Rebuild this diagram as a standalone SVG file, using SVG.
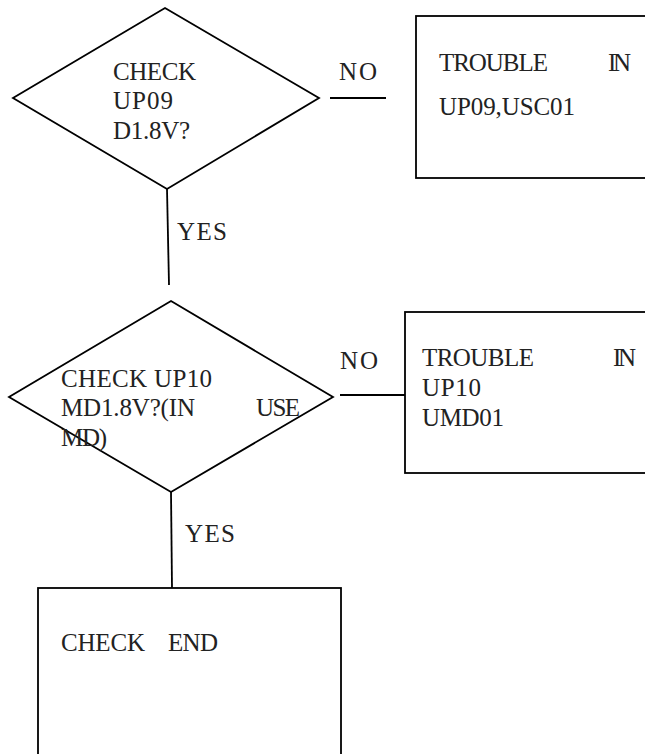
<svg xmlns="http://www.w3.org/2000/svg" width="645" height="754" viewBox="0 0 645 754">
<style>
.s{fill:none;stroke:#000;stroke-width:1.8}
.b{fill:#fff;stroke:#000;stroke-width:1.8}
text{font-family:"Liberation Serif","Times New Roman",serif;font-size:25px;fill:#222}
</style>
<rect width="645" height="754" fill="#fff"/>
<g id="connectors">
<line class="s" x1="167" y1="189" x2="169" y2="285"/>
<line class="s" x1="330" y1="98" x2="386" y2="98"/>
<line class="s" x1="171" y1="492" x2="172" y2="588"/>
<line class="s" x1="340" y1="395" x2="405" y2="395"/>
<text x="177" y="240" textLength="50">YES</text>
<text x="339" y="80" textLength="38">NO</text>
<text x="185" y="542" textLength="50">YES</text>
<text x="340" y="369" textLength="38">NO</text>
</g>
<g id="d1">
<polygon class="b" points="165,8 319,98 167,189 13,98"/>
<text x="113" y="80" textLength="83">CHECK</text>
<text x="113" y="109" textLength="60">UP09</text>
<text x="113" y="139" textLength="77">D1.8V?</text>
</g>
<g id="box1">
<rect class="b" x="416" y="16" width="240" height="162"/>
<text x="439" y="71" textLength="109">TROUBLE</text>
<text x="608" y="71" textLength="23">IN</text>
<text x="439" y="115" textLength="136">UP09,USC01</text>
</g>
<g id="d2">
<polygon class="b" points="171,301 333,397 171,492 9,397"/>
<text x="61" y="387" textLength="151">CHECK UP10</text>
<text x="61" y="416" textLength="134">MD1.8V?(IN</text>
<text x="256" y="416" textLength="44">USE</text>
<text x="61" y="446" textLength="46">MD)</text>
</g>
<g id="box2">
<rect class="b" x="405" y="312" width="250" height="161"/>
<text x="422" y="366" textLength="112">TROUBLE</text>
<text x="613" y="366" textLength="23">IN</text>
<text x="422" y="396" textLength="59">UP10</text>
<text x="422" y="426" textLength="82">UMD01</text>
</g>
<g id="box3">
<rect class="b" x="38" y="588" width="303" height="180"/>
<text x="61" y="651" textLength="84">CHECK</text>
<text x="168" y="651" textLength="50">END</text>
</g>
</svg>
